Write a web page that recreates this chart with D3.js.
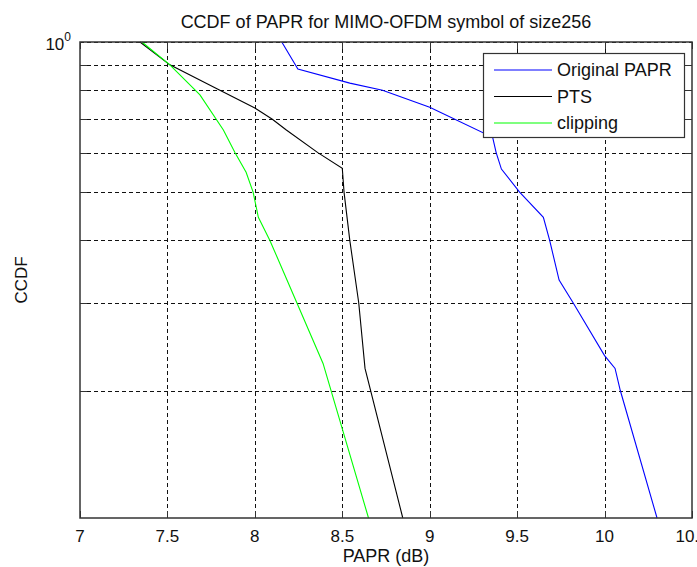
<!DOCTYPE html>
<html>
<head>
<meta charset="utf-8">
<script src="https://cdn.jsdelivr.net/npm/d3@7"></script>
<style>
  html, body { margin: 0; padding: 0; background: #fff; }
  svg { display: block; font-family: "Liberation Sans", Arial, sans-serif; }
</style>
</head>
<body>
<div id="chart"></div>
<script>
// values
const origPapr = [8.154, 8.246, 8.543, 8.73, 9.0, 9.36, 9.38, 9.41, 9.514, 9.65, 9.686, 9.74, 9.82, 10.0, 10.06, 10.09, 10.30];
const origCcdf = [1.0, 0.883, 0.827, 0.80, 0.74, 0.644, 0.6, 0.556, 0.5, 0.445, 0.4, 0.333, 0.3, 0.235, 0.2215, 0.2, 0.111];

const ptsPapr = [7.343, 7.514, 7.8, 8.0, 8.1, 8.18, 8.36, 8.5, 8.51, 8.543, 8.594, 8.63, 8.846];
const ptsCcdf = [1.0, 0.9, 0.8, 0.737, 0.7, 0.666, 0.6, 0.558, 0.5, 0.4, 0.3, 0.2215, 0.111];

const clipPapr = [7.354, 7.514, 7.686, 7.82, 7.886, 7.95, 7.99, 8.02, 8.086, 8.24, 8.39, 8.65];
const clipCcdf = [1.0, 0.9, 0.783, 0.666, 0.6, 0.548, 0.5, 0.445, 0.4, 0.3, 0.2266, 0.111];

const xTicks = [7, 7.5, 8, 8.5, 9, 9.5, 10, 10.5];
const yGrid = [0.2, 0.3, 0.4, 0.5, 0.6, 0.7, 0.8, 0.9];

const seriesNames = ["Original PAPR", "PTS", "clipping"];
const seriesColors = ["#0000ff", "#000000", "#00ff00"];

function renderChart(selector = "#chart") {
    const width = 697;
    const height = 567;
    const margin = { top: 42, right: 5, bottom: 49, left: 80 };

    const svg = d3.select(selector).append("svg")
        .attr("width", width)
        .attr("height", height);

    const x = d3.scaleLinear()
        .domain([7, 10.5])
        .range([margin.left, width - margin.right]);

    const y = d3.scaleLog()
        .domain([0.111, 1])
        .range([height - margin.bottom, margin.top]);

    const x0 = x.range()[0], x1 = x.range()[1];
    const yTop = y(1), yBot = y.range()[0];

    // grid
    const grid = svg.append("g").attr("class", "grid")
        .attr("stroke", "#111")
        .attr("stroke-width", 1)
        .attr("stroke-dasharray", "4,3");
    xTicks.slice(1, -1).forEach(t => {
        grid.append("line")
            .attr("x1", Math.round(x(t)) + 0.5).attr("x2", Math.round(x(t)) + 0.5)
            .attr("y1", yTop).attr("y2", yBot);
    });
    yGrid.concat([1]).forEach(t => {
        grid.append("line")
            .attr("x1", x0).attr("x2", x1)
            .attr("y1", Math.round(y(t)) + 0.5).attr("y2", Math.round(y(t)) + 0.5);
    });

    // ticks (inside, all four sides)
    const ticks = svg.append("g").attr("stroke", "#333").attr("stroke-width", 1);
    xTicks.forEach(t => {
        const px = Math.round(x(t)) + 0.5;
        ticks.append("line").attr("x1", px).attr("x2", px).attr("y1", yBot).attr("y2", yBot - 7);
        ticks.append("line").attr("x1", px).attr("x2", px).attr("y1", yTop).attr("y2", yTop + 7);
    });
    yGrid.forEach(t => {
        const py = Math.round(y(t)) + 0.5;
        ticks.append("line").attr("x1", x0).attr("x2", x0 + 7).attr("y1", py).attr("y2", py);
        ticks.append("line").attr("x1", x1).attr("x2", x1 - 7).attr("y1", py).attr("y2", py);
    });

    // lines
    const line = d3.line()
        .x(d => x(d[0]))
        .y(d => y(d[1]));

    const series = [
        d3.zip(origPapr, origCcdf),
        d3.zip(ptsPapr, ptsCcdf),
        d3.zip(clipPapr, clipCcdf)
    ];

    series.forEach((pts, i) => {
        svg.append("path")
            .datum(pts)
            .attr("fill", "none")
            .attr("stroke", seriesColors[i])
            .attr("stroke-width", 1.1)
            .attr("d", line);
    });

    // frame
    svg.append("rect")
        .attr("x", x0).attr("y", yTop)
        .attr("width", x1 - x0).attr("height", yBot - yTop)
        .attr("fill", "none")
        .attr("stroke", "#333")
        .attr("stroke-width", 1.5);

    // x tick labels (10.5 is cut by the right edge, as in the reference)
    xTicks.forEach(t => {
        svg.append("text")
            .attr("x", x(t))
            .attr("y", yBot + 24)
            .attr("text-anchor", "middle")
            .attr("fill", "#111")
            .style("font-size", "17px")
            .text(t);
    });

    // y label 10^0
    const yl = svg.append("text")
        .attr("x", x0 - 9)
        .attr("y", yTop + 8)
        .attr("text-anchor", "end")
        .attr("fill", "#111")
        .style("font-size", "17px");
    yl.append("tspan").text("10");
    yl.append("tspan").attr("dy", -9).style("font-size", "12px").text("0");

    // title
    svg.append("text")
        .attr("x", (x0 + x1) / 2)
        .attr("y", 28)
        .attr("text-anchor", "middle")
        .attr("fill", "#111")
        .style("font-size", "18px")
        .text("CCDF of PAPR for MIMO-OFDM symbol of size256");

    svg.append("text")
        .attr("x", (x0 + x1) / 2)
        .attr("y", 562)
        .attr("text-anchor", "middle")
        .attr("fill", "#111")
        .style("font-size", "18px")
        .text("PAPR (dB)");

    svg.append("text")
        .attr("transform", `translate(27,${(yTop + yBot) / 2}) rotate(-90)`)
        .attr("text-anchor", "middle")
        .attr("fill", "#111")
        .style("font-size", "17px")
        .text("CCDF");

    // legend
    const legend = svg.append("g").attr("transform", "translate(483,53)");
    legend.append("rect")
        .attr("x", 0.5).attr("y", 0.5)
        .attr("width", 201).attr("height", 84)
        .attr("fill", "#fff")
        .attr("stroke", "#333")
        .attr("stroke-width", 1.2);
    seriesNames.forEach((name, i) => {
        const cy = 17 + i * 26.5;
        legend.append("line")
            .attr("x1", 11).attr("x2", 69)
            .attr("y1", cy).attr("y2", cy)
            .attr("stroke", seriesColors[i])
            .attr("stroke-width", 1.1);
        legend.append("text")
            .attr("x", 74)
            .attr("y", cy + 6)
            .attr("fill", "#111")
            .style("font-size", "18px")
            .text(name);
    });
}

renderChart();
</script>
</body>
</html>
